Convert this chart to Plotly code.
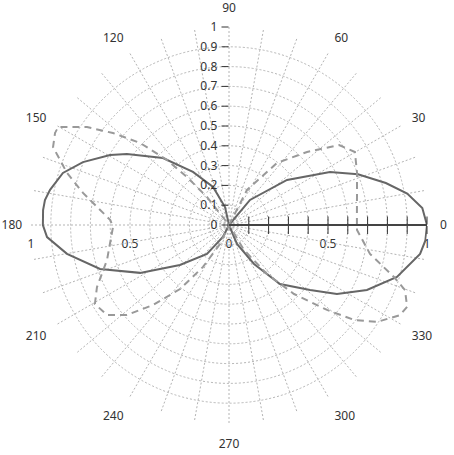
import plotly.graph_objects as go

# solid pattern (angle in degrees, radius)
solid_theta = [0, 5, 10, 15, 21.5, 27.7, 37.8, 50, 56,
               100, 102.5, 112.8, 124.2, 134.6, 145.2, 149.5, 156.7, 162.6, 168.9, 172.3, 175.4, 180,
               183.8, 190.1, 198.8, 208.3, 219.2, 232.8, 243, 247,
               285, 292.8, 302.7, 310.8, 321.3, 327.4, 334.8, 342.8, 351.4, 355.5, 360]
solid_r = [1.0, 0.98, 0.914, 0.82, 0.70, 0.576, 0.371, 0.165, 0.0,
           0.0, 0.093, 0.208, 0.324, 0.475, 0.628, 0.697, 0.803, 0.879, 0.921, 0.938, 0.942, 0.94,
           0.921, 0.831, 0.688, 0.51, 0.32, 0.184, 0.068, 0.0,
           0.0, 0.104, 0.234, 0.394, 0.525, 0.647, 0.77, 0.888, 0.976, 0.995, 1.0]

# dashed pattern
dashed_theta = [0, 5.4, 22.1, 30.1, 36, 43.1, 52.3, 62.8, 68,
                124, 128.2, 131.2, 133.6, 137.3, 141.6, 145.4, 150.2, 152.1, 156.1, 162.2, 167.6, 177.6,
                181, 196, 205.2, 210.5, 216.4, 221.4, 226.5, 232.6, 238.2, 244.7, 249,
                297, 301, 307.8, 313.3, 319.1, 322.8, 326.8, 332.2, 335.3, 339.7, 342.5, 348.4, 357.8, 360]
dashed_r = [0.646, 0.649, 0.698, 0.735, 0.687, 0.54, 0.396, 0.199, 0.0,
            0.0, 0.18, 0.322, 0.454, 0.611, 0.748, 0.871, 0.995, 0.994, 0.972, 0.859, 0.755, 0.60,
            0.586, 0.641, 0.737, 0.786, 0.766, 0.687, 0.557, 0.407, 0.249, 0.106, 0.0,
            0.0, 0.147, 0.313, 0.479, 0.655, 0.793, 0.894, 0.976, 0.99, 0.948, 0.874, 0.727, 0.647, 0.646]

radial_ticks = [round(i * 0.1, 1) for i in range(11)]
radial_labels = ["0", "0.1", "0.2", "0.3", "0.4", "0.5", "0.6", "0.7", "0.8", "0.9", "1"]
# labels along the horizontal diameter (left side mirrors the right)
horiz_vals = [-1, -0.5, 0, 0.5, 1]
horiz_labels = ["1", "0.5", "0", "0.5", "1"]
angle_ticks = list(range(0, 360, 10))
angle_labels = [str(a) if a % 30 == 0 and a != 180 else "" for a in angle_ticks]

grid = "#b4b4b4"
txt = "#333333"
font = dict(family="Noto Sans", size=12, color=txt)
clear = "rgba(0,0,0,0)"

fig = go.Figure()
fig.add_scatterpolar(r=solid_r, theta=solid_theta, mode="lines",
                     line=dict(color="#666666", width=2), subplot="polar")
fig.add_scatterpolar(r=dashed_r, theta=dashed_theta, mode="lines",
                     line=dict(color="#999999", width=2, dash="7px,5px"), subplot="polar")
# placeholder traces so the overlay axes get drawn
for sp in ["polar2", "polar3", "polar4"]:
    fig.add_scatterpolar(r=[0], theta=[0], mode="markers", marker=dict(opacity=0),
                         hoverinfo="skip", subplot=sp)
fig.add_scatter(x=[0], y=[0], mode="markers", marker=dict(opacity=0), hoverinfo="skip")

hidden_ang = dict(visible=False, showgrid=False, direction="counterclockwise", rotation=0)

fig.update_layout(
    width=454, height=455,
    margin=dict(l=31, r=27, t=27, b=32),
    paper_bgcolor="white",
    plot_bgcolor=clear,
    showlegend=False,
    font=font,
    polar=dict(
        domain=dict(x=[0, 1], y=[0, 1]),
        bgcolor=clear,
        radialaxis=dict(range=[0, 1], angle=90, side="counterclockwise",
                        tickvals=radial_ticks, ticktext=radial_labels,
                        ticks="outside", ticklen=7, tickcolor=txt, tickwidth=1,
                        tickangle=90,
                        showline=False, gridcolor=grid, griddash="2px,2px", gridwidth=1),
        angularaxis=dict(direction="counterclockwise", rotation=0,
                         tickvals=angle_ticks, ticktext=angle_labels,
                         ticks="outside", ticklen=10, tickcolor=clear,
                         showline=False, gridcolor=grid, griddash="2px,2px", gridwidth=1),
    ),
    # horizontal axis line with ticks crossing it
    polar2=dict(
        domain=dict(x=[0, 1], y=[0, 1]),
        bgcolor=clear,
        radialaxis=dict(range=[0, 1], angle=0, side="clockwise",
                        tickvals=radial_ticks[1:], showticklabels=False,
                        ticks="outside", ticklen=8, tickcolor=txt, tickwidth=1,
                        showline=True, linecolor="#444444", linewidth=2, showgrid=False),
        angularaxis=hidden_ang,
    ),
    polar3=dict(
        domain=dict(x=[0, 1], y=[0, 1]),
        bgcolor=clear,
        radialaxis=dict(range=[0, 1], angle=0, side="counterclockwise",
                        tickvals=radial_ticks[1:], showticklabels=False,
                        ticks="outside", ticklen=8, tickcolor=txt, tickwidth=1,
                        showline=False, showgrid=False),
        angularaxis=hidden_ang,
    ),
    # the 180 label sits a little closer to the circle
    polar4=dict(
        domain=dict(x=[0, 1], y=[0, 1]),
        bgcolor=clear,
        radialaxis=dict(visible=False, range=[0, 1]),
        angularaxis=dict(direction="counterclockwise", rotation=0, showgrid=False,
                         showline=False, tickvals=[180], ticktext=["180"],
                         ticks="outside", ticklen=6, tickcolor=clear),
    ),
    xaxis=dict(range=[-1, 1], domain=[0, 1], anchor="free", position=0.5,
               tickvals=horiz_vals, ticktext=horiz_labels,
               ticks="outside", ticklen=8, tickcolor=clear,
               showgrid=False, zeroline=False, showline=False, fixedrange=True),
    yaxis=dict(range=[-1, 1], visible=False, fixedrange=True),
)

# drop the page's default body margin so the chart sits at the window's corner
fig.write_html("out.html", config={"displayModeBar": False},
               post_script="document.body.style.margin = '0px';")
